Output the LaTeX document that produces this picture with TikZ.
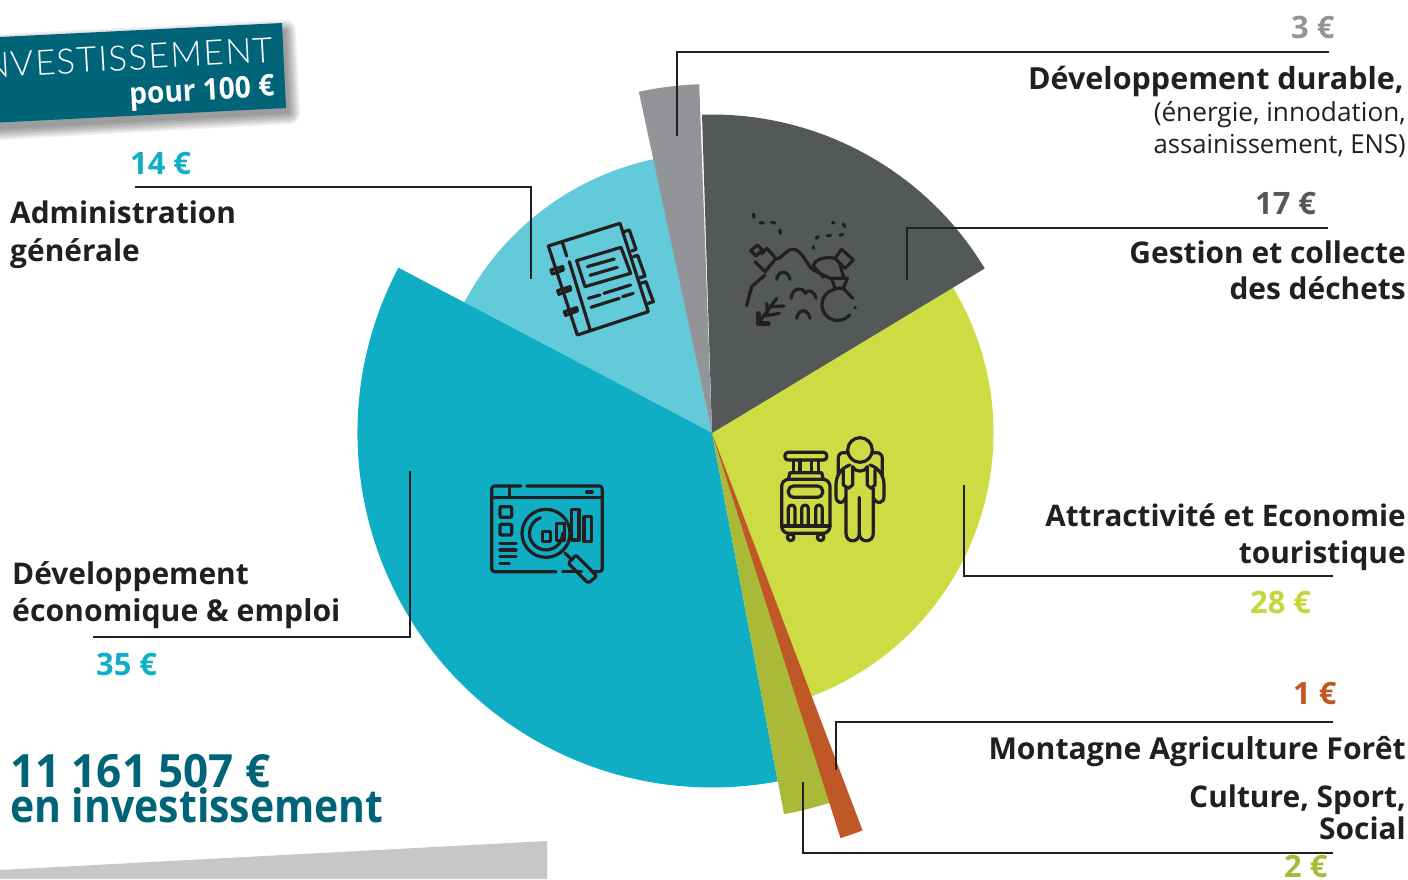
\documentclass[tikz,border=0pt]{standalone}
\usepackage{fontspec}
\setmainfont{Open Sans}
\newfontfamily\lightf[LetterSpace=4]{Lato Light}
\definecolor{ink}{HTML}{231F20}
\definecolor{cTeal}{HTML}{0FAEC4}
\definecolor{cLight}{HTML}{62CAD9}
\definecolor{cGray}{HTML}{929497}
\definecolor{cDark}{HTML}{555859}
\definecolor{cGreen}{HTML}{CDDC42}
\definecolor{cAmtG}{HTML}{C3D63A}
\definecolor{cOlive}{HTML}{AAB938}
\definecolor{cOrange}{HTML}{BF5726}
\definecolor{cBanner}{HTML}{006478}
\definecolor{cBand}{HTML}{C6C7C8}
\tikzset{
 leader/.style={draw=ink,line width=2.8bp,line join=miter},
 ico/.style={draw=ink,line width=3.2bp,line cap=round,line join=round},
 lab/.style={font=\fontsize{30}{30}\selectfont\bfseries,text=ink,inner sep=0pt,anchor=base east},
 labl/.style={font=\fontsize{30}{30}\selectfont\bfseries,text=ink,inner sep=0pt,anchor=base west},
 subl/.style={font=\fontsize{26.3}{27}\selectfont,text=ink,inner sep=0pt,anchor=base east},
 amt/.style={font=\fontsize{31}{31}\selectfont\bfseries,inner sep=0pt,anchor=base west},
 big/.style={font=\fontsize{46}{46}\selectfont\bfseries,text=cBanner,inner sep=0pt,anchor=base west},
}
\newcommand{\secfill}[4]{\fill[#1] (712,433) -- ++(#2:#4 bp) arc[start angle=#2,end angle=#3,radius=#4 bp] -- cycle;}
\begin{document}
\begin{tikzpicture}[x=1bp,y=-1bp]
\useasboundingbox (0,0) rectangle (1408,879);
% band
\fill[cBand] (0,879) -- (0,870) -- (547,841) -- (547,879) -- cycle;
% pie
\secfill{cLight}{154}{102}{280}
\secfill{cGreen}{-69.3}{32}{281.5}
\secfill{cDark}{91.8}{31.1}{318.5}
\secfill{cGray}{102.1}{92.1}{349}
\secfill{cTeal}{152.2}{280.7}{354.5}
\secfill{cOlive}{-79.3}{-71}{388}
\secfill{cOrange}{-72.4}{-69.25}{425}
% banner shadow
\foreach \w in {22,19,16,13,10,7,4,1}{
  \begin{scope}[transparency group,opacity=.06]
  \draw[black,fill=black,line width=\w bp,line join=round]
    (-20,46) -- (285,31) -- (289,113) -- (-20,130) -- cycle;
  \end{scope}
}
\fill[cBanner] (-20,38) -- (282,23) -- (286,108) -- (-20,123.5) -- cycle;
\node[rotate=3.2,inner sep=0pt,anchor=base east,text=white,font=\fontsize{35}{35}\selectfont\lightf] (bannertitle) at (274,62) {INVESTISSEMENT};
\node[rotate=3.2,inner sep=0pt,anchor=base east,text=white,font=\fontsize{30}{30}\selectfont\bfseries] (bannersub) at (275,96) {\scalebox{.94}[1]{pour 100 €}};
% leaders
\coordinate (a1) at (1329,52); \coordinate (a2) at (677,52); \coordinate (a3) at (677,136);
\draw[leader] (a1) -- (a2) -- (a3);
\coordinate (b1) at (1328,228); \coordinate (b2) at (907,228); \coordinate (b3) at (907,280);
\draw[leader] (b1) -- (b2) -- (b3);
\coordinate (c1) at (135,187); \coordinate (c2) at (531,187); \coordinate (c3) at (531,279);
\draw[leader] (c1) -- (c2) -- (c3);
\coordinate (d1) at (93,637); \coordinate (d2) at (410,637); \coordinate (d3) at (410,471);
\draw[leader] (d1) -- (d2) -- (d3);
\coordinate (e1) at (1333,576); \coordinate (e2) at (964,576); \coordinate (e3) at (964,485);
\draw[leader] (e1) -- (e2) -- (e3);
\coordinate (f1) at (1333,722); \coordinate (f2) at (836,722); \coordinate (f3) at (836,770);
\draw[leader] (f1) -- (f2) -- (f3);
\coordinate (g1) at (1333,853); \coordinate (g2) at (803,853); \coordinate (g3) at (803,782);
\draw[leader] (g1) -- (g2) -- (g3);
% amounts
\node[amt,text=cGray] (m3) at (1291,38) {3 €};
\node[amt,text=cDark] (m17) at (1255,214) {17 €};
\node[amt,text=cTeal] (m14) at (130,174) {14 €};
\node[amt,text=cTeal] (m35) at (96,675) {35 €};
\node[amt,text=cAmtG] (m28) at (1250,613) {28 €};
\node[amt,text=cOrange] (m1) at (1293,704) {1 €};
\node[amt,text=cOlive] (m2) at (1284,877.5) {2 €};
% labels
\node[lab,font=\fontsize{30.6}{30}\selectfont\bfseries] (t1) at (1404,89) {Développement durable,};
\node[subl] (t1b) at (1406,121) {(énergie, innodation,};
\node[subl] (t1c) at (1406,153) {\scalebox{.98}[1]{assainissement, ENS)}};
\node[lab] (t2) at (1406,263) {Gestion et collecte};
\node[lab] (t2b) at (1406,299) {des déchets};
\node[labl] (t3) at (10,223.5) {Administration};
\node[labl] (t3b) at (10,261) {générale};
\node[labl] (t4) at (12,584) {Développement};
\node[labl,font=\fontsize{30.3}{30}\selectfont\bfseries] (t4b) at (12,621) {économique \& emploi};
\node[lab,font=\fontsize{29.8}{30}\selectfont\bfseries] (t5) at (1406,526) {Attractivité et Economie};
\node[lab] (t5b) at (1406,563) {touristique};
\node[lab,font=\fontsize{30.3}{30}\selectfont\bfseries] (t6) at (1406,759) {Montagne Agriculture Forêt};
\node[lab] (t7) at (1406,807) {Culture, Sport,};
\node[lab] (t7b) at (1406,839) {Social};
\node[big] (tot) at (10,787) {\scalebox{.96}[1]{11 161 507 €}};
\node[big] (totb) at (10,822) {\scalebox{.894}[1]{en investissement}};
% notebook
\begin{scope}[shift={(520,190)},x=0.3333bp,y=-0.3333bp,ico]
\draw (85,168) -- (300,100) -- (385,365) -- (172,435) -- cycle;
\draw (128,160) -- (140,198) (148,215) -- (210,418);
\draw (170,212) -- (303,172) -- (332,250) -- (195,290) -- cycle;
\draw (202,230) -- (283,207) (210,256) -- (292,232) (205,325) -- (240,315) (252,310) -- (332,285) (213,352) -- (298,325) (308,320) -- (340,310);
\draw (312,125) -- (328,120) -- (348,178) -- (335,183);
\draw (340,200) -- (353,196) -- (375,258) -- (360,263);
\draw (362,280) -- (378,275) -- (400,335) -- (385,340);
\draw (93,240) -- (128,230) -- (130,240) -- (97,252) -- cycle;
\draw (113,302) -- (150,290) -- (152,300) -- (117,313) -- cycle;
\draw (133,365) -- (170,353) -- (172,363) -- (137,376) -- cycle;
\end{scope}
% waste
\begin{scope}[shift={(720,190)},x=0.3333bp,y=-0.3333bp,ico]
\draw (100,72) -- (102,82) (120,98) -- (130,99) (155,97) -- (165,99) (180,120) -- (181,130) (280,170) -- (280,175) (288,145) -- (295,140) (322,137) -- (332,136) (360,136) -- (368,133) (337,98) -- (342,98) (370,102) -- (375,110);
\draw (92,182) -- (112,165) -- (128,180) -- (108,198) -- cycle;
\draw (125,192) -- (140,175) -- (168,205) -- (135,245) -- (105,215);
\draw (80,347) -- (95,290) -- (135,255);
\draw (165,208) .. controls (190,205) and (195,178) .. (220,178) .. controls (245,178) and (260,225) .. (280,240) -- (330,265);
\draw (310,262) -- (280,228) .. controls (285,205) and (320,200) .. (345,205);
\draw (345,205) -- (365,178) -- (400,210) -- (375,235) -- cycle;
\draw (360,225) -- (372,265) (335,265) -- (382,265) -- (370,295) -- (345,295) -- cycle;
\draw (345,298) arc[start angle=100,end angle=320,radius=15.7bp];
\draw (370,295) -- (398,325) (405,352) -- (405,353);
\draw (170,268) .. controls (175,240) and (205,240) .. (210,268);
\draw (213,325) .. controls (218,290) and (250,290) .. (255,310) .. controls (265,295) and (285,305) .. (288,325);
\draw (230,385) .. controls (235,355) and (265,355) .. (270,385);
\draw (115,400) -- (170,325) (140,340) -- (143,375) (155,350) -- (192,348) (135,378) -- (178,370);
\draw[line width=4.5bp] (115,370) -- (115,400) -- (145,400);
\end{scope}
% luggage and hiker
\begin{scope}[shift={(760,420)},x=0.3333bp,y=-0.3333bp,ico]
\draw[rounded corners=3bp] (75,97) rectangle (200,120);
\draw (100,120) -- (100,158) (120,120) -- (120,158) (155,120) -- (155,158) (175,120) -- (175,158);
\draw (85,178) -- (90,158) -- (185,158) -- (190,178);
\draw[rounded corners=7bp] (65,178) rectangle (210,340);
\draw[rounded corners=5bp] (85,198) rectangle (188,232);
\draw (65,318) -- (210,318);
\draw (85,318) -- (85,265) arc[start angle=180,end angle=0,radius=3.33bp] -- (105,318);
\draw (125,318) -- (125,265) arc[start angle=180,end angle=0,radius=3.33bp] -- (145,318);
\draw (167,318) -- (167,265) arc[start angle=180,end angle=0,radius=3.33bp] -- (187,318);
\draw (92,352) circle[radius=3.3bp] (182,352) circle[radius=3.3bp];
\draw (300,90) circle[radius=12.3bp];
\draw (262,98) -- (250,98) .. controls (240,98) and (235,105) .. (235,115) -- (235,165);
\draw (338,98) -- (350,98) .. controls (360,98) and (367,105) .. (367,115) -- (367,165);
\draw (270,135) .. controls (240,145) and (228,170) .. (228,195) -- (228,230) .. controls (228,250) and (250,255) .. (255,235);
\draw (330,135) .. controls (360,145) and (372,170) .. (372,195) -- (372,230) .. controls (372,250) and (348,255) .. (342,235);
\draw (258,205) -- (258,340) .. controls (258,370) and (298,370) .. (298,340) -- (298,232);
\draw (340,205) -- (340,340) .. controls (340,370) and (298,370) .. (298,340);
\draw (250,150) -- (250,195) -- (265,205) -- (278,195) -- (278,140);
\draw (322,140) -- (322,195) -- (333,205) -- (345,195) -- (345,150);
\draw (278,140) .. controls (285,158) and (315,158) .. (322,140);
\end{scope}
% chart and magnifier
\begin{scope}[shift={(470,470)},x=0.3333bp,y=-0.3333bp,ico]
\draw[rounded corners=3bp] (153,48) -- (65,48) -- (65,305) -- (258,305);
\draw (278,305) -- (335,305);
\draw[rounded corners=3bp] (368,305) -- (397,305) -- (397,48) -- (170,48);
\draw (65,82) -- (397,82) (118,48) -- (118,82) (350,66) -- (367,66);
\draw[rounded corners=1bp] (90,110) rectangle (125,142) (90,163) rectangle (125,195);
\draw (90,220) -- (138,220) (90,240) -- (138,240) (90,260) -- (138,260) (90,281) -- (118,281);
\draw (228,190) circle[radius=24bp];
\draw (278,190) arc[start angle=0,end angle=-250,radius=16.6bp];
\draw (218,185) rectangle (242,215) (260,160) rectangle (283,212) (342,140) rectangle (365,215);
\draw (305,210) -- (305,118) -- (327,118) -- (327,210) -- cycle;
\draw (285,250) -- (305,268);
\draw[rounded corners=2bp] (318,255) -- (380,318) -- (355,340) -- (295,280) -- cycle;
\end{scope}
\end{tikzpicture}
\end{document}
